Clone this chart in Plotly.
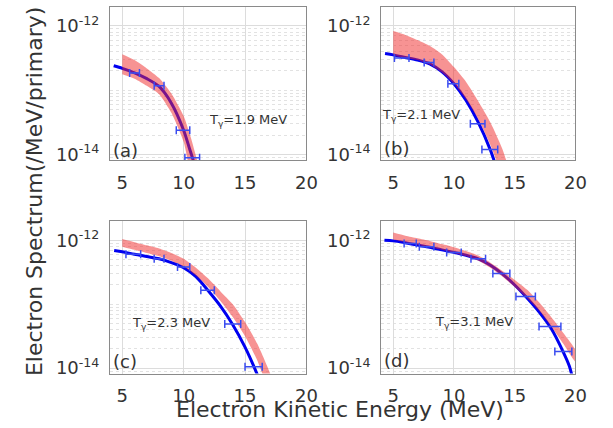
import numpy as np
import plotly.graph_objects as go

# ---------------- data (y values given as log10 of spectrum) ----------------
a_line_x = [4.3, 5, 6, 7, 8, 9, 10, 10.5, 10.8, 11.1]
a_line_log = [-12.62, -12.66, -12.73, -12.82, -12.94, -13.2, -13.62, -13.92, -14.1, -14.3]
a_band_x = [5, 6, 7, 8, 9, 10, 10.5, 11, 11.4]
a_band_hi = [-12.44, -12.53, -12.66, -12.81, -13.05, -13.40, -13.68, -14.02, -14.35]
a_band_lo = [-12.75, -12.82, -12.93, -13.06, -13.35, -13.80, -14.25, -14.6, -14.9]
a_pts_x = [6.0, 8.0, 9.95, 10.7]
a_pts_log = [-12.73, -12.93, -13.62, -14.05]
a_pts_err = [0.4, 0.4, 0.55, 0.6]

b_line_x = [4.33, 5, 6, 7, 8, 9, 10, 11, 12, 13, 13.5, 14]
b_line_log = [-12.43, -12.45, -12.49, -12.53, -12.59, -12.71, -12.9, -13.16, -13.5, -13.93, -14.2, -14.45]
b_band_x = [5, 6, 7, 8, 9, 10, 11, 12, 13, 14, 14.6]
b_band_hi = [-12.08, -12.14, -12.22, -12.31, -12.44, -12.64, -12.87, -13.17, -13.5, -13.92, -14.3]
b_band_lo = [-12.46, -12.5, -12.53, -12.6, -12.72, -12.9, -13.14, -13.45, -13.85, -14.35, -14.7]
b_pts_x = [5.7, 7.95, 9.95, 11.95, 12.95]
b_pts_log = [-12.5, -12.57, -12.9, -13.52, -13.92]
b_pts_err = [0.6, 0.4, 0.45, 0.6, 0.65]

c_line_x = [4.34, 5, 6, 7, 8, 9, 10, 11, 12, 13, 14, 15, 16, 16.5]
c_line_log = [-12.16, -12.18, -12.22, -12.255, -12.29, -12.35, -12.43, -12.57, -12.79, -13.03, -13.32, -13.67, -14.1, -14.35]
c_band_x = [5, 6, 7, 8, 9, 10, 11, 12, 13, 14, 15, 16, 17, 17.5]
c_band_hi = [-11.98, -12.03, -12.08, -12.13, -12.2, -12.29, -12.43, -12.6, -12.8, -13.0, -13.28, -13.62, -14.06, -14.35]
c_band_lo = [-12.10, -12.15, -12.2, -12.25, -12.32, -12.41, -12.55, -12.73, -12.95, -13.2, -13.5, -13.88, -14.4, -14.7]
c_pts_x = [5.9, 8.0, 10.0, 11.95, 14.0, 15.7]
c_pts_log = [-12.22, -12.29, -12.42, -12.78, -13.31, -13.98]
c_pts_err = [0.6, 0.4, 0.5, 0.55, 0.65, 0.7]

d_line_x = [4.28, 5, 6, 7, 8, 9, 10, 11, 12, 13, 14, 15, 16, 17, 18, 19, 19.5, 20]
d_line_log = [-12.0, -12.01, -12.04, -12.075, -12.11, -12.15, -12.19, -12.235, -12.29, -12.39,
              -12.53, -12.7, -12.9, -13.12, -13.38, -13.75, -13.97, -14.35]
d_band_x = [5, 6, 7, 8, 9, 10, 11, 12, 13, 14, 15, 16, 17, 18, 19, 20]
d_band_hi = [-11.88, -11.93, -11.97, -12.01, -12.06, -12.11, -12.17, -12.24, -12.35, -12.48,
             -12.62, -12.77, -12.97, -13.2, -13.45, -13.72]
d_band_lo = [-11.99, -12.03, -12.07, -12.11, -12.15, -12.2, -12.25, -12.32, -12.43, -12.57,
             -12.73, -12.9, -13.1, -13.35, -13.62, -13.9]
d_pts_x = [6.4, 7.75, 10.0, 12.0, 13.9, 15.9, 17.9, 19.0]
d_pts_log = [-12.05, -12.1, -12.19, -12.29, -12.52, -12.88, -13.35, -13.74]
d_pts_err = [0.5, 0.6, 0.6, 0.6, 0.7, 0.8, 0.9, 0.7]

panel_tags = ["(a)", "(b)", "(c)", "(d)"]
temps = ["T<sub>γ</sub>=1.9 MeV", "T<sub>γ</sub>=2.1 MeV", "T<sub>γ</sub>=2.3 MeV", "T<sub>γ</sub>=3.1 MeV"]
x_ticks = [5, 10, 15, 20]
y_ticks = [1e-14, 1e-12]
y_ticktext = ["10<sup>-14</sup>", "10<sup>-12</sup>"]

panels = [
    (a_line_x, a_line_log, a_band_x, a_band_hi, a_band_lo, a_pts_x, a_pts_log, a_pts_err),
    (b_line_x, b_line_log, b_band_x, b_band_hi, b_band_lo, b_pts_x, b_pts_log, b_pts_err),
    (c_line_x, c_line_log, c_band_x, c_band_hi, c_band_lo, c_pts_x, c_pts_log, c_pts_err),
    (d_line_x, d_line_log, d_band_x, d_band_hi, d_band_lo, d_pts_x, d_pts_log, d_pts_err),
]

# ---------------- layout geometry (pixels) ----------------
W, H = 613, 428
xdoms = [(112, 312), (388, 586), (112, 312), (388, 586)]
ydoms = [(7, 162), (7, 162), (224, 378), (224, 378)]
tag_pos = [(113, 152), (389, 150), (113, 366), (389, 365)]
temp_pos = [(211, 122), (387, 117), (132, 327), (441, 326)]

FONT = "DejaVu Sans"
TXT = "#333333"

fig = go.Figure()
minor_vals = [m * 10.0 ** e for e in (-15, -14, -13, -12) for m in range(1, 10)
              if not (m == 1 and e in (-14, -12))]

for i, (lx, ll, bx, bh, bl, px, pl, pe) in enumerate(panels):
    k = "" if i == 0 else str(i + 1)
    xa, ya = "x" + k, "y" + k
    # model line
    fig.add_trace(go.Scatter(x=lx, y=np.power(10.0, ll), mode="lines",
                             line=dict(color="#0000f0", width=3, shape="spline", smoothing=0.8),
                             xaxis=xa, yaxis=ya, showlegend=False, hoverinfo="skip"))
    # band
    bxx = list(bx) + list(bx)[::-1]
    byy = list(np.power(10.0, bh)) + list(np.power(10.0, bl))[::-1]
    fig.add_trace(go.Scatter(x=bxx, y=byy, mode="lines", fill="toself",
                             fillcolor="rgba(240,40,40,0.5)", line=dict(width=0, shape="spline", smoothing=0.6),
                             xaxis=xa, yaxis=ya, showlegend=False, hoverinfo="skip"))
    # data points with x error bars
    fig.add_trace(go.Scatter(x=px, y=np.power(10.0, pl), mode="markers",
                             marker=dict(size=2, color="#3a4cf0"),
                             error_x=dict(type="data", array=pe, color="#3a4cf0", thickness=1.5, width=4),
                             xaxis=xa, yaxis=ya, showlegend=False, hoverinfo="skip"))

    x0, x1 = xdoms[i]
    y0, y1 = ydoms[i]
    axkey = "xaxis" + k
    aykey = "yaxis" + k
    fig.layout[axkey] = dict(
        domain=[x0 / W, x1 / W], range=[4, 20], anchor=ya,
        tickvals=x_ticks, ticks="", showgrid=True, gridcolor="#dcdcdc", gridwidth=1,
        showline=True, linecolor="#8a8a8a", linewidth=1, mirror=True, zeroline=False,
        tickfont=dict(family=FONT, size=18, color=TXT), ticklabelstandoff=6,
    )
    fig.layout[aykey] = dict(
        domain=[1 - y1 / H, 1 - y0 / H], type="log", range=[-14.085, -11.705], anchor=xa,
        tickvals=y_ticks, ticktext=y_ticktext, ticks="", showgrid=True, gridcolor="#dcdcdc",
        minor=dict(tickvals=minor_vals, showgrid=True, gridcolor="#e2e2e2", griddash="dot", ticks=""),
        showline=True, linecolor="#8a8a8a", linewidth=1, mirror=True, zeroline=False,
        tickfont=dict(family=FONT, size=18, color=TXT), ticklabelstandoff=6,
    )
    fig.add_annotation(x=tag_pos[i][0] / W, y=1 - tag_pos[i][1] / H, xref="paper", yref="paper",
                       text=panel_tags[i], showarrow=False, xanchor="left", yanchor="middle",
                       font=dict(family=FONT, size=18, color=TXT))
    fig.add_annotation(x=temp_pos[i][0] / W, y=1 - temp_pos[i][1] / H, xref="paper", yref="paper",
                       text=temps[i], showarrow=False, xanchor="left", yanchor="middle",
                       font=dict(family=FONT, size=13, color=TXT))

fig.add_annotation(x=346 / W, y=1 - 414 / H, xref="paper", yref="paper",
                   text="Electron Kinetic Energy (MeV)", showarrow=False,
                   xanchor="center", yanchor="middle", font=dict(family=FONT, size=22, color=TXT))
fig.add_annotation(x=35 / W, y=1 - 193 / H, xref="paper", yref="paper",
                   text="Electron Spectrum(/MeV/primary)", showarrow=False, textangle=-90,
                   xanchor="center", yanchor="middle", font=dict(family=FONT, size=22, color=TXT))

fig.update_layout(width=W, height=H, margin=dict(l=0, r=0, t=0, b=0),
                  paper_bgcolor="white", plot_bgcolor="white", showlegend=False)

fig.write_html("out.html")
